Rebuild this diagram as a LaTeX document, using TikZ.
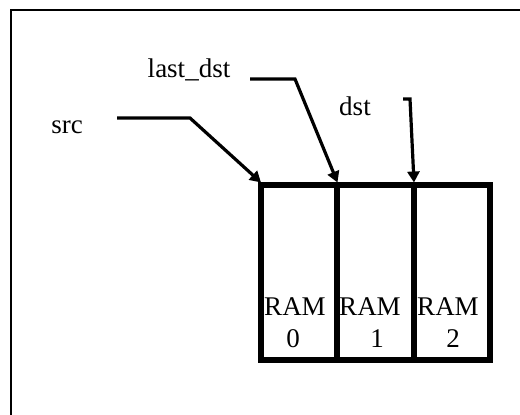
\documentclass[tikz,border=0pt]{standalone}
\usepackage{fontspec}
\setmainfont{Liberation Serif}
\usetikzlibrary{arrows.meta}
\begin{document}
\begin{tikzpicture}[x=1pt,y=-1pt,
  cell/.style={draw, line width=5.5pt, minimum width=76pt, minimum height=175pt, inner sep=0pt, outer sep=0pt},
  lbl/.style={font=\fontsize{27}{29}\selectfont, inner sep=0pt, anchor=base},
  ptr/.style={line width=3.2pt, -{Triangle[length=11pt,width=12pt]}, line join=miter}]
\useasboundingbox (0,0) rectangle (520,415);
\draw[line width=2pt] (11,415) -- (11,10) -- (520,10);
% cells
\node[cell] (ram0) at (299,272.5) {};
\node[cell] (ram1) at (375.5,272.5) {};
\node[cell] (ram2) at (452,272.5) {};
% cell labels
\node[lbl] (r0) at (295,315) {RAM};
\node[lbl] (n0) at (293,347) {0};
\node[lbl] (r1) at (370,315) {RAM};
\node[lbl] (n1) at (377,347) {1};
\node[lbl] (r2) at (448,315) {RAM};
\node[lbl] (n2) at (453,347) {2};
% pointer labels
\node[lbl] (src) at (67,133) {src};
\node[lbl] (last) at (189,77) {last\_dst};
\node[lbl] (dst) at (355,115) {dst};
% pointer starts
\coordinate (s0) at (117,118);
\coordinate (s1) at (250,79);
\coordinate (s2) at (403,99);
\draw[ptr] (s0) -- (190,118) -- ([yshift=2.5pt]ram0.north west);
\draw[ptr] (s1) -- (295,79) -- ([yshift=2.5pt]ram1.north west);
\draw[ptr] (s2) -- (410,99) -- ([yshift=2.5pt]ram2.north west);
\end{tikzpicture}
\end{document}
